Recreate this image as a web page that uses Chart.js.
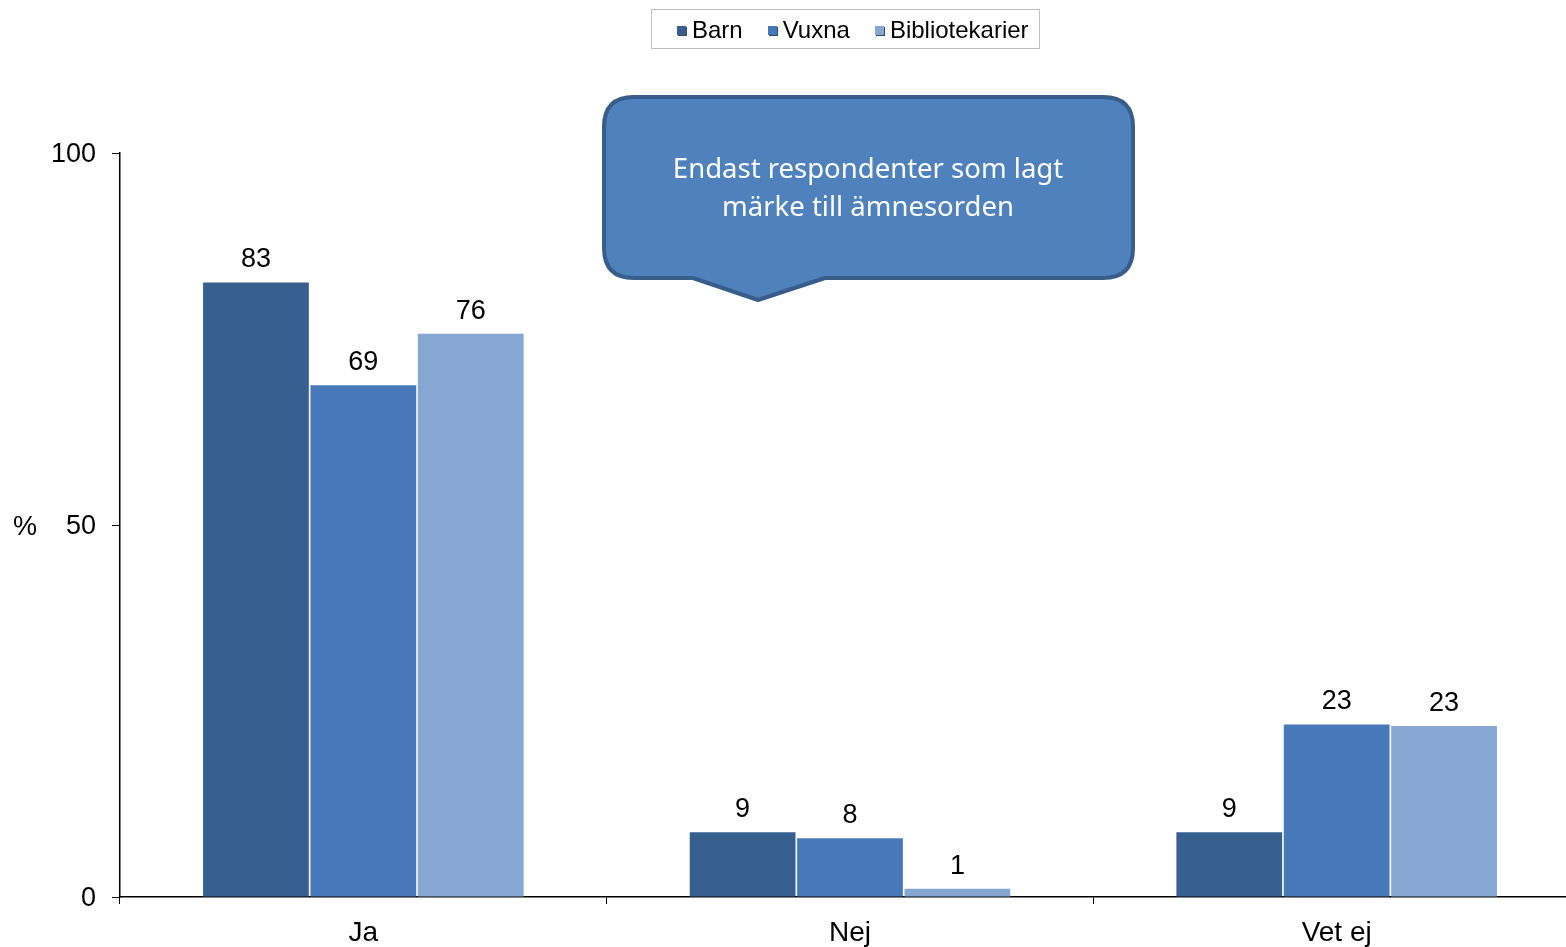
<!DOCTYPE html>
<html>
<head>
<meta charset="utf-8">
<script src="https://cdn.jsdelivr.net/npm/chart.js@4"></script>
<style>
  html, body { margin: 0; padding: 0; overflow: hidden; background: #fff; }
  #wrap { position: relative; width: 1566px; height: 947px; overflow: hidden; }
  #chart { position: absolute; left: 0; top: 0; }
  #legend {
    position: absolute; left: 651px; top: 9px; width: 362px; height: 36px; padding: 2px 0 0 25px;
    border: 1px solid #bfbfbf; font-family: "Liberation Sans", Arial, sans-serif;
    font-size: 24px; color: #000; display: flex; align-items: center; justify-content: flex-start;
  }
  #legend span.item { display: inline-flex; align-items: center; margin: 0 25px 0 0; }
  #legend span.box { width: 9px; height: 9px; margin-right: 6px; box-shadow: 1px 1px 0 #3a4a5e; }
</style>
</head>
<body>
<div id="wrap">
  <canvas id="chart" width="1580" height="947"></canvas>
  <div id="legend"></div>
</div>
<script>
  'use strict';

  var categories = ['Ja', 'Nej', 'Vet ej'];
  var seriesNames = ['Barn', 'Vuxna', 'Bibliotekarier'];
  var barn = [82.6, 8.7, 8.7];
  var vuxna = [68.8, 7.9, 23.2];
  var bibliotekarier = [75.7, 1.1, 23.0];
  var yTicks = [0, 50, 100];
  var colors = ['#376091', '#4779BA', '#85A7D2'];
  var calloutLines = ['Endast respondenter som lagt', 'märke till ämnesorden'];

  var FONT = '"Liberation Sans", Arial, sans-serif';

  // html legend, built from the series names
  var legendEl = document.getElementById('legend');
  seriesNames.forEach(function (name, i) {
    var item = document.createElement('span');
    item.className = 'item';
    var box = document.createElement('span');
    box.className = 'box';
    box.style.background = colors[i];
    item.appendChild(box);
    item.appendChild(document.createTextNode(name));
    legendEl.appendChild(item);
  });

  var valueLabels = {
    id: 'valueLabels',
    afterDatasetsDraw: function (chart) {
      var ctx = chart.ctx;
      ctx.save();
      ctx.font = '27px ' + FONT;
      ctx.fillStyle = '#000';
      ctx.textAlign = 'center';
      ctx.textBaseline = 'alphabetic';
      chart.data.datasets.forEach(function (ds, di) {
        chart.getDatasetMeta(di).data.forEach(function (bar, i) {
          ctx.fillText(String(Math.round(ds.data[i])), bar.x, bar.y - 15);
        });
      });
      // y axis unit
      ctx.textAlign = 'left';
      ctx.textBaseline = 'middle';
      ctx.fillText('%', 13, 528);
      ctx.restore();
    }
  };

  var callout = {
    id: 'callout',
    afterDraw: function (chart) {
      var ctx = chart.ctx;
      var x0 = 604, y0 = 97, x1 = 1133, y1 = 278, r = 30;
      ctx.save();
      ctx.beginPath();
      ctx.moveTo(x0 + r, y0);
      ctx.lineTo(x1 - r, y0);
      ctx.quadraticCurveTo(x1, y0, x1, y0 + r);
      ctx.lineTo(x1, y1 - r);
      ctx.quadraticCurveTo(x1, y1, x1 - r, y1);
      ctx.lineTo(825, y1);
      ctx.lineTo(758, 300);
      ctx.lineTo(693, y1);
      ctx.lineTo(x0 + r, y1);
      ctx.quadraticCurveTo(x0, y1, x0, y1 - r);
      ctx.lineTo(x0, y0 + r);
      ctx.quadraticCurveTo(x0, y0, x0 + r, y0);
      ctx.closePath();
      ctx.fillStyle = '#4F81BD';
      ctx.fill();
      ctx.lineWidth = 4;
      ctx.strokeStyle = '#385D8A';
      ctx.lineJoin = 'round';
      ctx.stroke();
      ctx.fillStyle = '#fff';
      ctx.font = '27.5px "Noto Sans", "Open Sans", sans-serif';
      ctx.textAlign = 'center';
      ctx.textBaseline = 'middle';
      ctx.fillText(calloutLines[0], 868, 170);
      ctx.fillText(calloutLines[1], 868, 208);
      ctx.restore();
    }
  };

  var seriesData = [barn, vuxna, bibliotekarier];

  new Chart(document.getElementById('chart').getContext('2d'), {
    type: 'bar',
    data: {
      labels: categories,
      datasets: seriesNames.map(function (name, i) {
        return {
          label: name,
          data: seriesData[i],
          backgroundColor: colors[i],
          borderWidth: 0,
          barPercentage: 0.985,
          categoryPercentage: 0.662
        };
      })
    },
    options: {
      responsive: false,
      animation: false,
      devicePixelRatio: 1,
      layout: { padding: { top: 153, right: 0, left: 0, bottom: 0 } },
      plugins: {
        legend: { display: false },
        tooltip: { enabled: false }
      },
      scales: {
        x: {
          grid: {
            offset: true,
            drawOnChartArea: false,
            drawTicks: true,
            tickLength: 7,
            color: '#000'
          },
          border: { color: '#000', width: 1.5 },
          ticks: {
            font: { family: FONT, size: 28 },
            color: '#000',
            padding: 12
          },
          afterFit: function (scale) { scale.height = 50; }
        },
        y: {
          min: 0,
          max: 100,
          afterBuildTicks: function (scale) {
            scale.ticks = yTicks.map(function (v) { return { value: v }; });
          },
          grid: {
            drawOnChartArea: false,
            drawTicks: true,
            tickLength: 8,
            color: '#000'
          },
          border: { color: '#000', width: 1.5 },
          ticks: {
            font: { family: FONT, size: 27 },
            color: '#000',
            padding: 16,
            labelOffset: 2
          },
          afterFit: function (scale) { scale.width = 120; }
        }
      }
    },
    plugins: [valueLabels, callout]
  });
</script>
</body>
</html>
